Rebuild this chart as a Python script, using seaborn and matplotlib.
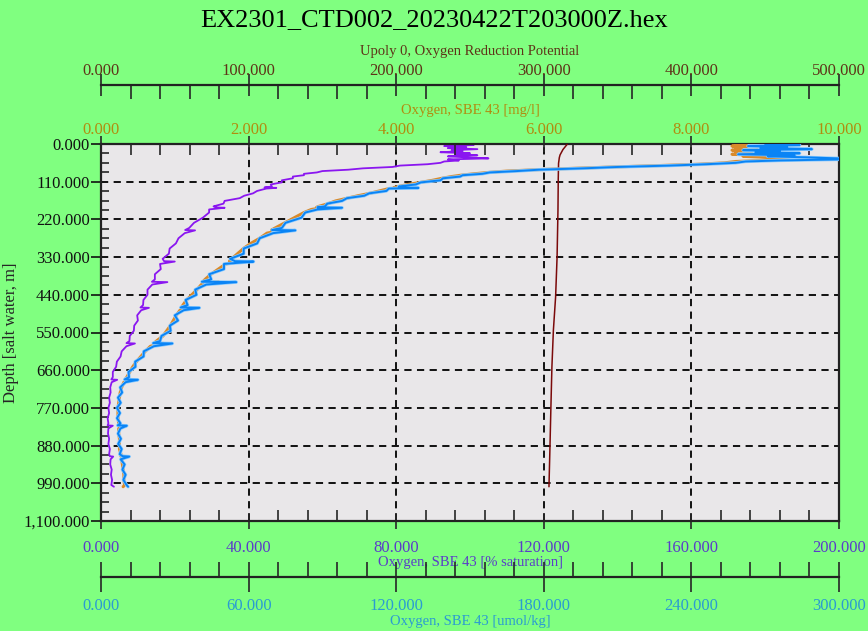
import matplotlib
matplotlib.use("Agg")
import matplotlib.pyplot as plt
import matplotlib.ticker as mticker
import matplotlib.patheffects as pe
import seaborn as sns
import pandas as pd

# depth of each scan (m); pairs like 127/128 hold one noise spike
depth = [0, 3, 6, 9, 12, 15, 18, 21, 24, 27, 30, 33, 36, 39, 42, 45, 48, 51,
         55, 59, 63, 67, 71, 75, 79, 83, 87, 91, 95, 100, 106, 112, 118, 124, 127, 128,
         130, 137, 144, 151, 158, 166, 174, 182, 185, 186, 191, 200,
         215, 230, 245, 251, 252, 260, 275, 290, 305, 320, 335, 342, 343, 350, 365,
         380, 395, 402, 403, 410, 425, 440, 455, 470, 477, 478, 485, 500, 515, 530,
         545, 560, 575, 581, 582, 590, 605, 620, 635, 650, 665, 680, 687, 688, 695,
         710, 725, 740, 755, 770, 785, 800, 815, 821, 822, 830, 845, 860, 875, 890,
         905, 911, 912, 920, 935, 950, 965, 980, 995, 1000]

# Oxygen, SBE 43 [% saturation]
sat_pct = [96, 101, 93, 99, 94, 102, 95, 98, 92, 100, 96, 102, 94, 99, 105, 94, 97, 93,
           92, 88.5, 81, 79, 71, 67, 60, 58.5, 55, 55, 52, 52, 49, 49, 46, 46.3, 44.3, 47.5,
           44.8, 42.3, 41.2, 38.8, 37.6, 33.5, 33.2, 30.5, 31.2, 33.5, 29.3, 29.3,
           27.6, 25.2, 23.9, 22.8, 25.5, 22.7, 21.0, 20.3, 18.6, 18.4, 16.7, 17.1, 20.0, 16.0, 16.2,
           14.6, 14.6, 13.8, 18.0, 13.9, 12.6, 12.6, 11.5, 11.4, 10.7, 13.0, 10.9, 9.8, 10.0, 9.0,
           8.9, 7.8, 7.7, 6.9, 9.2, 6.9, 5.6, 5.3, 4.3, 4.1, 3.2, 3.2, 2.8, 4.4, 2.9,
           2.5, 2.6, 2.2, 2.4, 2.0, 2.2, 1.8, 2.0, 1.8, 3.2, 2.0, 1.9, 2.2, 2.0, 2.4,
           2.2, 2.4, 3.3, 2.6, 2.5, 2.9, 2.7, 3.0, 2.8, 3.5]

# Oxygen, SBE 43 [umol/kg]
umol_kg = [270, 284, 263, 279, 268, 289, 261, 276, 266, 284, 259, 282, 271, 287, 300, 300, 276, 262,
           258, 246, 231, 210, 196, 178, 169, 158, 155, 147, 146, 139, 138, 130, 128, 121, 122, 129,
           117, 116, 109, 107, 100, 98, 92, 91, 88, 98, 88, 83,
           81.5, 75, 73.5, 69.5, 79, 70, 64.5, 63.5, 58, 58, 52.5, 54.5, 62, 50, 50,
           44, 44.8, 41, 55, 42.8, 38.3, 38.8, 34.4, 35.2, 32.4, 40, 33.6, 30, 31.3, 28,
           28.3, 24.6, 24, 21.2, 29, 21.5, 17.4, 17.3, 13.9, 14, 11.2, 11.4, 9.6, 15, 10,
           7.8, 8.6, 6.9, 8, 6.5, 7.7, 6.5, 7.9, 6.8, 10.5, 7.9, 6.9, 8.1, 7, 8.4,
           7.6, 8.8, 11.5, 8, 9.6, 8.7, 10, 9.1, 10.4, 11]

# Oxygen, SBE 43 [mg/l]
mg_l = [8.6, 8.9, 8.55, 8.8, 8.6, 9.0, 8.55, 8.8, 8.6, 8.95, 8.55, 8.9, 8.7, 9.05, 9.5, 9.6, 8.95, 8.6,
        8.45, 8.1, 7.55, 6.95, 6.4, 5.9, 5.5, 5.25, 5.05, 4.88, 4.75, 4.62, 4.49, 4.33, 4.16, 4.03, 3.97, 4.1,
        3.9, 3.77, 3.64, 3.48, 3.34, 3.18, 3.08, 2.95, 2.92, 3.0, 2.85, 2.75,
        2.62, 2.49, 2.36, 2.31, 2.45, 2.25, 2.15, 2.03, 1.93, 1.85, 1.77, 1.74, 1.9, 1.69, 1.59,
        1.49, 1.41, 1.38, 1.6, 1.36, 1.3, 1.23, 1.16, 1.11, 1.09, 1.2, 1.07, 1.02, 0.98, 0.94,
        0.89, 0.84, 0.75, 0.72, 0.85, 0.67, 0.6, 0.54, 0.48, 0.43, 0.39, 0.35, 0.33, 0.42, 0.31,
        0.28, 0.26, 0.25, 0.24, 0.23, 0.23, 0.23, 0.24, 0.24, 0.3, 0.24, 0.24, 0.25, 0.25, 0.25,
        0.27, 0.27, 0.33, 0.28, 0.29, 0.3, 0.31, 0.31, 0.32, 0.3]

# Upoly 0, Oxygen Reduction Potential
orp_depth = [0, 8, 16, 24, 32, 40, 50, 56, 100, 193, 329, 446, 543, 650, 770, 880, 1000]
orp = [316, 314.5, 313, 312, 311, 310.5, 310.2, 310, 309.8, 309.6, 309, 308, 306.5,
       305.5, 304.8, 304.2, 303.5]

df = pd.DataFrame({"depth": depth, "sat": sat_pct, "umol": umol_kg, "mgl": mg_l})
df_orp = pd.DataFrame({"depth": orp_depth, "orp": orp})

sns.set_style("white")
plt.rcParams["font.family"] = ["Liberation Serif", "DejaVu Serif"]

GREEN = "#80FF80"
c_sat, c_umol, c_mgl, c_orp = "#8A16F0", "#0A84F5", "#D98A2B", "#7B0A0A"
t_sat, t_umol, t_mgl, t_orp = "#5A3DC8", "#2A9BD2", "#B08D10", "#5E3418"

fig = plt.figure(figsize=(8.68, 6.31), dpi=100, facecolor=GREEN)
ax = fig.add_axes([101 / 868, 1 - 521 / 631, 738 / 868, 377 / 631])
ax.set_facecolor("#E9E7E9")

ax_mg = ax.twiny()
ax_orp = ax.twiny()
ax_umol = ax.twiny()

# lines
sns.lineplot(data=df, x="sat", y="depth", sort=False, estimator=None, orient="y",
             ax=ax, color=c_sat, lw=1.3)
sns.lineplot(data=df, x="mgl", y="depth", sort=False, estimator=None, orient="y",
             ax=ax_mg, color=c_mgl, lw=2.2)
sns.lineplot(data=df_orp, x="orp", y="depth", sort=False, estimator=None, orient="y",
             ax=ax_orp, color=c_orp, lw=1.1)
sns.lineplot(data=df, x="umol", y="depth", sort=False, estimator=None, orient="y",
             ax=ax_umol, color=c_umol, lw=1.4,
             path_effects=[pe.Stroke(linewidth=2.4, foreground="#8CCBFF"), pe.Normal()])

ax.set_xlim(0, 200)
ax_mg.set_xlim(0, 10)
ax_orp.set_xlim(0, 500)
ax_umol.set_xlim(0, 300)
ax.set_ylim(1100, 0)

fmt = mticker.StrMethodFormatter("{x:,.3f}")

# depth axis
ax.yaxis.set_major_locator(mticker.MultipleLocator(110))
ax.yaxis.set_minor_locator(mticker.MultipleLocator(27.5))
ax.yaxis.set_major_formatter(fmt)
ax.tick_params(axis="y", which="major", direction="out", length=7, width=1.2,
               labelsize=12, pad=1, colors="#111111", left=True)
ax.tick_params(axis="y", which="minor", direction="in", length=6, width=1.2, left=True)
ax.set_ylabel("Depth [salt water, m]", fontsize=12, labelpad=3)

# % saturation on bottom of the plot
ax.xaxis.set_major_locator(mticker.MultipleLocator(40))
ax.xaxis.set_minor_locator(mticker.MultipleLocator(8))
ax.xaxis.set_major_formatter(fmt)
ax.tick_params(axis="x", which="major", direction="inout", length=12, width=1.2,
               labelsize=12, labelcolor=t_sat, pad=8, bottom=True)
ax.tick_params(axis="x", which="minor", direction="in", length=8, width=1.2, bottom=True)
ax.set_xlabel("Oxygen, SBE 43 [% saturation]", color=t_sat, fontsize=10.5, labelpad=0)

# mg/l on top of the plot
ax_mg.xaxis.set_major_locator(mticker.MultipleLocator(2))
ax_mg.xaxis.set_minor_locator(mticker.MultipleLocator(0.4))
ax_mg.xaxis.set_major_formatter(fmt)
ax_mg.tick_params(axis="x", which="major", direction="inout", length=12, width=1.2,
                  labelsize=12, labelcolor=t_mgl, pad=-2)
ax_mg.tick_params(axis="x", which="minor", direction="in", length=8, width=1.2)
ax_mg.set_xlabel("Oxygen, SBE 43 [mg/l]", color=t_mgl, fontsize=10.5, labelpad=6)

# ORP axis detached above
ax_orp.spines["top"].set_position(("axes", 1 + 59 / 377))
ax_orp.xaxis.set_major_locator(mticker.MultipleLocator(100))
ax_orp.xaxis.set_minor_locator(mticker.MultipleLocator(20))
ax_orp.xaxis.set_major_formatter(fmt)
ax_orp.tick_params(axis="x", which="major", direction="inout", length=16, width=1.2,
                   labelsize=12, labelcolor=t_orp, pad=-4)
ax_orp.tick_params(axis="x", which="minor", direction="in", length=10, width=1.2)
ax_orp.set_xlabel("Upoly 0, Oxygen Reduction Potential", color=t_orp, fontsize=10.5,
                  labelpad=6)

# umol/kg axis detached below
ax_umol.xaxis.set_ticks_position("bottom")
ax_umol.xaxis.set_label_position("bottom")
ax_umol.spines["bottom"].set_position(("axes", -56 / 377))
ax_umol.xaxis.set_major_locator(mticker.MultipleLocator(60))
ax_umol.xaxis.set_minor_locator(mticker.MultipleLocator(12))
ax_umol.xaxis.set_major_formatter(fmt)
ax_umol.tick_params(axis="x", which="major", direction="inout", length=22, width=1.2,
                    labelsize=12, labelcolor=t_umol, pad=4)
ax_umol.tick_params(axis="x", which="minor", direction="in", length=11, width=1.2)
ax_umol.set_xlabel("Oxygen, SBE 43 [umol/kg]", color=t_umol, fontsize=10.5, labelpad=1)

for a in (ax_mg, ax_orp, ax_umol):
    for s in a.spines.values():
        s.set_visible(False)
    a.set_ylabel("")
ax_orp.spines["top"].set_visible(True)
ax_umol.spines["bottom"].set_visible(True)
for a in (ax, ax_orp, ax_umol):
    for s in a.spines.values():
        s.set_linewidth(1.6)
        s.set_color("#222222")

ax.grid(True, which="major", color="black", linestyle=(0, (4, 3)), linewidth=1.3)

fig.text(0.5, 1 - 20 / 631, "EX2301_CTD002_20230422T203000Z.hex", ha="center", va="center",
         fontsize=19, color="black")

fig.savefig("out.png", dpi=100, facecolor=GREEN)
